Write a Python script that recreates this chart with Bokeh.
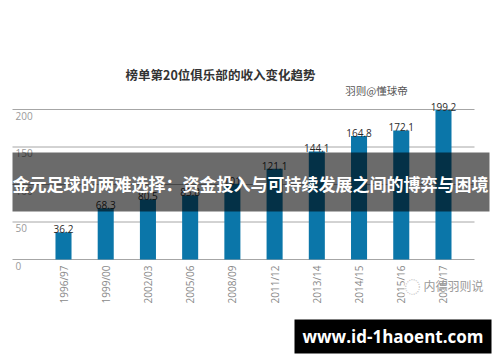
import math
from bokeh.plotting import figure
from bokeh.models import ColumnDataSource, Label, BoxAnnotation
from bokeh.core.properties import value
from bokeh.embed import file_html
from bokeh.resources import INLINE

# ---- data ----
seasons = ["1996/97", "1999/00", "2002/03", "2005/06", "2008/09",
           "2011/12", "2013/14", "2014/15", "2015/16", "2016/17"]
revenue = [36.2, 68.3, 80.5, 85.8, 101, 121.1, 144.1, 164.8, 172.1, 199.2]
rev_labels = ["36.2", "68.3", "80.5", "85.8", "101", "121.1", "144.1", "164.8", "172.1", "199.2"]
y_ticks = [0, 50, 100, 150, 200]
y_tick_labels = ["0", "50", "100", "150", "200"]

title_text = "榜单第20位俱乐部的收入变化趋势"
source_text = "羽则@懂球帝"
watermark_text = "内德羽则说"
overlay_text = "金元足球的两难选择：资金投入与可持续发展之间的博弈与困境"
url_text = "www.id-1haoent.com"

# ---- layout (canvas pixels) ----
W, H = 492, 354
X0PX, PPX = 63, 42.22     # canvas x of first category, px per category
Y0PX, PPY = 259, 0.75     # canvas y of value 0, px per unit


def dx(px):
    return (px - X0PX) / PPX


def dy(py):
    return (Y0PX - py) / PPY


CJK = "Noto Sans CJK SC"

p = figure(width=W, height=H, output_backend="svg", toolbar_location=None,
           x_range=(dx(0), dx(W)), y_range=(dy(H), dy(0)),
           x_axis_location=None, y_axis_location=None,
           min_border=0, min_border_left=0, min_border_right=0,
           min_border_top=0, min_border_bottom=0)
p.outline_line_color = None
p.background_fill_color = "white"
p.border_fill_color = "white"
for g in p.grid:
    g.visible = False

xs = list(range(len(seasons)))
src = ColumnDataSource(dict(x=xs, top=revenue, lab=rev_labels))

# horizontal gridlines at the y ticks
gsrc = ColumnDataSource(dict(x0=[dx(12)] * len(y_ticks), x1=[dx(474)] * len(y_ticks),
                             y=y_ticks, t=y_tick_labels,
                             lx=[dx(15)] * len(y_ticks)))
p.segment(x0="x0", x1="x1", y0="y", y1="y", source=gsrc,
          line_color="#a6a6a6", line_width=1)

p.vbar(x="x", top="top", width=0.38, bottom=0, source=src,
       fill_color="#0b76a9", line_color=None)

p.text(x="x", y="top", text="lab", source=src, text_align="center",
       text_baseline="alphabetic", y_offset=-3, text_font=value("Open Sans"),
       text_font_size="10px", text_color="#2a2a2a")

# y tick labels (below each gridline, at the left)
p.text(x="lx", y="y", text="t", source=gsrc, text_align="left",
       text_baseline="top", y_offset=2, text_font=value("Open Sans"),
       text_font_size="10px", text_color="#9a9a9a")

# x tick labels (rotated)
xsrc = ColumnDataSource(dict(x=xs, y=[0] * len(xs), t=seasons))
p.text(x="x", y="y", text="t", source=xsrc, angle=math.pi / 2,
       text_align="right", text_baseline="middle", x_offset=0, y_offset=6,
       text_font=value("Open Sans"), text_font_size="10px", text_color="#8a8a8a")

p.add_layout(Label(x=dx(220), y=dy(74), text=title_text, text_align="center",
                   text_baseline="middle", text_font=CJK, text_font_size="12.5px",
                   text_font_style="bold", text_color="#333333"))
p.add_layout(Label(x=dx(376), y=dy(90), text=source_text, text_align="center",
                   text_baseline="middle", text_font=CJK, text_font_size="10.5px",
                   text_color="#555555"))
p.add_layout(Label(x=dx(412), y=dy(285), text="◌", text_align="center",
                   text_baseline="middle", text_font=CJK, text_font_size="16px",
                   text_color="#c8c8c8", background_fill_color="white",
                   background_fill_alpha=0.8))
p.add_layout(Label(x=dx(453), y=dy(285), text=watermark_text, text_align="center",
                   text_baseline="middle", text_font=CJK, text_font_size="12px",
                   text_color="#9a9a9a"))

p.add_layout(BoxAnnotation(left=dx(12), right=dx(489), top=dy(152), bottom=dy(211),
                           fill_color="black", fill_alpha=0.58, line_color=None,
                           level="overlay"))
p.add_layout(Label(x=dx(250), y=dy(183), text=overlay_text, text_align="center",
                   text_baseline="middle", text_font=CJK, text_font_size="17px",
                   text_font_style="bold", text_color="white", level="overlay"))

p.add_layout(BoxAnnotation(left=dx(294), right=dx(491), top=dy(319), bottom=dy(353),
                           fill_color="black", fill_alpha=1.0, line_color=None,
                           level="overlay"))
p.add_layout(Label(x=dx(392.5), y=dy(336), text=url_text, text_align="center",
                   text_baseline="middle", text_font="Open Sans", text_font_size="17px",
                   text_font_style="bold", text_color="white", level="overlay"))

open("out.html", "w").write(file_html(p, INLINE))
